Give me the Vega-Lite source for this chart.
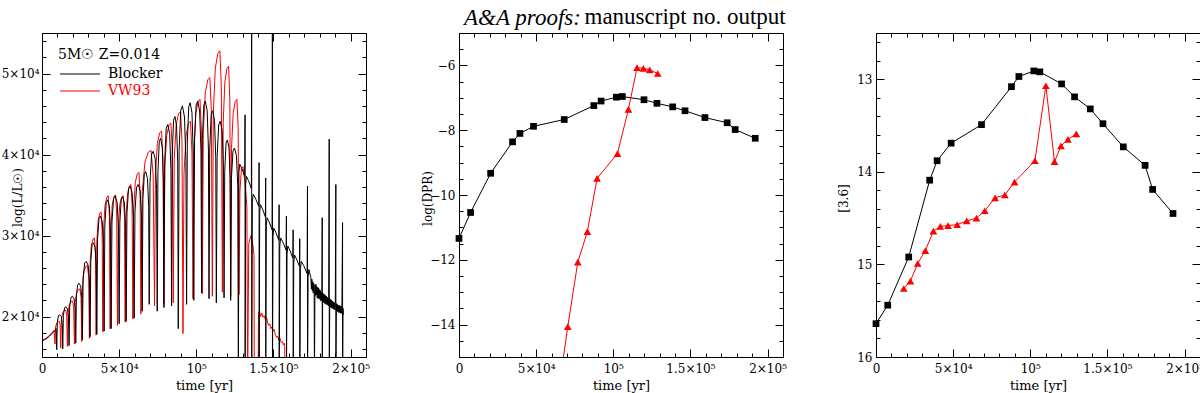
{
"$schema":"https://vega.github.io/schema/vega-lite/v6.json",
"autosize":{"type":"pad"},
"padding":{"left":0,"top":5,"right":0,"bottom":0},
"background":"white",
"config":{"view":{"stroke":"black","strokeWidth":1},
"axis":{"labelFont":"DejaVu Serif","titleFont":"DejaVu Serif","labelFontSize":12,"titleFontSize":13,"titleFontWeight":"normal","labelColor":"black","titleColor":"black","tickColor":"black","domain":false,"grid":false,"labelFlush":false,"labelOverlap":false,"tickWidth":1}},
"spacing":93,
"bounds":"flush",
"datasets":{
"lumB":[{"t":0,"v":17000},{"t":2500,"v":17200},{"t":5000,"v":17600},{"t":7000,"v":18000},{"t":8500,"v":18300},{"t":9200,"v":18500},
{"t":9550,"v":15900},{"t":9940,"v":19340},{"t":10720,"v":20110},{"t":11500,"v":20200},{"t":12470,"v":19990},{"t":13130,"v":19130},
{"t":13440,"v":16000},{"t":13850,"v":20160},{"t":14670,"v":21100},{"t":15480,"v":21200},{"t":16510,"v":20940},{"t":17200,"v":19900},
{"t":17530,"v":16400},{"t":17970,"v":21280},{"t":18840,"v":22380},{"t":19710,"v":22500},{"t":20790,"v":22200},{"t":21530,"v":20980},
{"t":21880,"v":16700},{"t":22310,"v":22620},{"t":23170,"v":23950},{"t":24030,"v":24100},{"t":25100,"v":23730},{"t":25830,"v":22250},
{"t":26170,"v":17100},{"t":26670,"v":24860},{"t":27670,"v":26610},{"t":28670,"v":26800},{"t":29920,"v":26320},{"t":30770,"v":24380},
{"t":31170,"v":17500},{"t":31610,"v":26780},{"t":32480,"v":28870},{"t":33350,"v":29100},{"t":34430,"v":28520},{"t":35170,"v":26200},
{"t":35520,"v":17800},{"t":36000,"v":29480},{"t":36940,"v":32110},{"t":37890,"v":32400},{"t":39080,"v":31670},{"t":39880,"v":28750},
{"t":40260,"v":18200},{"t":40720,"v":31160},{"t":41630,"v":34080},{"t":42540,"v":34400},{"t":43670,"v":33590},{"t":44450,"v":30350},
{"t":44810,"v":18500},{"t":45330,"v":31620},{"t":46370,"v":34570},{"t":47410,"v":34900},{"t":48700,"v":34080},{"t":49580,"v":30800},
{"t":50000,"v":19100},{"t":50460,"v":31660},{"t":51370,"v":34490},{"t":52280,"v":34800},{"t":53410,"v":34020},{"t":54190,"v":30880},
{"t":54550,"v":19400},{"t":55070,"v":32760},{"t":56110,"v":35770},{"t":57150,"v":36100},{"t":58440,"v":35270},{"t":59320,"v":31930},
{"t":59740,"v":19800},{"t":60260,"v":33000},{"t":61300,"v":35970},{"t":62340,"v":36300},{"t":63640,"v":35480},{"t":64520,"v":32180},
{"t":64940,"v":20650},{"t":65400,"v":34450},{"t":66310,"v":37560},{"t":67220,"v":37900},{"t":68350,"v":37040},{"t":69130,"v":33590},
{"t":69490,"v":21500},{"t":70010,"v":36620},{"t":71050,"v":40020},{"t":72090,"v":40400},{"t":73380,"v":39460},{"t":74260,"v":35680},
{"t":74680,"v":20650},{"t":75120,"v":37730},{"t":75990,"v":41570},{"t":76860,"v":42000},{"t":77940,"v":40930},{"t":78680,"v":36660},
{"t":79030,"v":21100},{"t":79520,"v":39180},{"t":80510,"v":43250},{"t":81500,"v":43700},{"t":82740,"v":42570},{"t":83570,"v":38050},
{"t":83970,"v":21300},{"t":84410,"v":40020},{"t":85280,"v":44230},{"t":86150,"v":44700},{"t":87230,"v":43530},{"t":87970,"v":38850},
{"t":88320,"v":18500},{"t":88860,"v":40500},{"t":89940,"v":45450},{"t":91020,"v":46000},{"t":92360,"v":44630},{"t":93280,"v":39130},
{"t":93710,"v":21500},{"t":94180,"v":41420},{"t":95110,"v":45900},{"t":96050,"v":46400},{"t":97210,"v":45160},{"t":98010,"v":40180},
{"t":98380,"v":22000},{"t":98890,"v":41680},{"t":99900,"v":46110},{"t":100920,"v":46600},{"t":102180,"v":45370},{"t":103040,"v":40450},
{"t":103450,"v":22900},{"t":103930,"v":41860},{"t":104890,"v":46130},{"t":105850,"v":46600},{"t":107050,"v":45420},{"t":107870,"v":40680},
{"t":108250,"v":22200},{"t":108730,"v":40760},{"t":109680,"v":44940},{"t":110630,"v":45400},{"t":111810,"v":44240},{"t":112620,"v":39600},
{"t":113000,"v":21700},{"t":113500,"v":39620},{"t":114500,"v":43650},{"t":115500,"v":44100},{"t":116750,"v":42980},{"t":117600,"v":38500},
{"t":118000,"v":22300},{"t":118430,"v":37900},{"t":119280,"v":41410},{"t":120140,"v":41800},{"t":121210,"v":40830},{"t":121940,"v":36930},
{"t":122280,"v":22000},{"t":122780,"v":37040},{"t":123780,"v":40420},{"t":124780,"v":40800},{"t":126030,"v":39860},{"t":126880,"v":36100},
{"t":127280,"v":12000},{"t":127630,"v":37800},{"t":128150,"v":38800},{"t":129460,"v":38300},{"t":131410,"v":37300},
{"t":131610,"v":44900},{"t":131650,"v":12000},{"t":132000,"v":36300},{"t":132490,"v":37300},{"t":133780,"v":36800},{"t":135700,"v":35800},
{"t":135900,"v":60000},{"t":135940,"v":12000},{"t":136320,"v":34100},{"t":136900,"v":35100},{"t":138330,"v":34600},{"t":140490,"v":33600},
{"t":140710,"v":39000},{"t":140750,"v":12000},{"t":141090,"v":32800},{"t":141590,"v":33800},{"t":142870,"v":33300},{"t":144800,"v":32300},
{"t":144990,"v":37100},{"t":145030,"v":12000},{"t":145380,"v":31200},{"t":145880,"v":32200},{"t":147190,"v":31700},{"t":149140,"v":30700},
{"t":149340,"v":60000},{"t":149380,"v":12000},{"t":149730,"v":29900},{"t":150230,"v":30900},{"t":151540,"v":30400},{"t":153490,"v":29400},
{"t":153690,"v":33800},{"t":153730,"v":12000},{"t":154110,"v":28700},{"t":154660,"v":29700},{"t":156080,"v":29200},{"t":158210,"v":28200},
{"t":158430,"v":32400},{"t":158470,"v":12000},{"t":158820,"v":27700},{"t":159320,"v":28700},{"t":160630,"v":28200},{"t":162580,"v":27200},
{"t":162780,"v":30700},{"t":162820,"v":12000},{"t":163170,"v":26600},{"t":163660,"v":27600},{"t":164950,"v":27100},{"t":166870,"v":26200},
{"t":167070,"v":29600},{"t":167110,"v":12000},{"t":167490,"v":25900},{"t":168090,"v":26800},{"t":169590,"v":26300},{"t":171840,"v":25300},
{"t":172070,"v":36100},{"t":172110,"v":12000},{"t":172460,"v":24900},{"t":172990,"v":25800},{"t":174000,"v":25000},
{"t":174300,"v":24800},{"t":174600,"v":23400},{"t":174900,"v":24600},{"t":175200,"v":23200},{"t":175500,"v":24300},{"t":175800,"v":22900},{"t":176100,"v":24100},{"t":176400,"v":23000},{"t":176600,"v":12000},{"t":176900,"v":23900},{"t":177200,"v":22600},{"t":177500,"v":24000},{"t":177800,"v":22700},{"t":178100,"v":23700},{"t":178400,"v":22300},{"t":178700,"v":23600},{"t":179000,"v":22200},{"t":179300,"v":23500},{"t":179600,"v":22300},{"t":179900,"v":23300},{"t":180200,"v":22100},{"t":180500,"v":23200},{"t":180800,"v":21900},{"t":181100,"v":23000},{"t":181400,"v":22000},{"t":181620,"v":32200},{"t":181660,"v":12000},{"t":181900,"v":22900},{"t":182200,"v":21800},{"t":182500,"v":22800},{"t":182800,"v":21700},{"t":183100,"v":22700},{"t":183400,"v":21600},{"t":183700,"v":22600},{"t":184000,"v":21500},{"t":184300,"v":22500},{"t":184600,"v":21500},{"t":184900,"v":22400},{"t":185200,"v":21400},{"t":185500,"v":22300},{"t":185800,"v":21300},{"t":186160,"v":41900},{"t":186200,"v":12000},{"t":186500,"v":22200},{"t":186800,"v":21200},{"t":187100,"v":22100},{"t":187400,"v":21100},{"t":187700,"v":22000},{"t":188000,"v":21000},{"t":188300,"v":21900},{"t":188600,"v":21000},{"t":188900,"v":21800},{"t":189200,"v":20900},{"t":189500,"v":21700},{"t":189800,"v":20800},{"t":190100,"v":21600},{"t":190450,"v":36300},{"t":190490,"v":12000},{"t":190800,"v":21600},{"t":191100,"v":20700},{"t":191400,"v":21500},{"t":191700,"v":20600},{"t":192000,"v":21400},{"t":192300,"v":20500},{"t":192600,"v":21400},{"t":192900,"v":20500},{"t":193200,"v":21300},{"t":193500,"v":20400},{"t":193800,"v":21300},{"t":194100,"v":20400},{"t":194400,"v":21200},{"t":194800,"v":31600},{"t":194840,"v":12000},{"t":195100,"v":21000},{"t":195300,"v":20200}],
"lumR":[{"t":0,"v":17000},{"t":2500,"v":17300},{"t":5000,"v":17700},{"t":6500,"v":18000},{"t":7800,"v":18300},
{"t":8440,"v":16600},{"t":8810,"v":18700},{"t":9550,"v":19200},{"t":10480,"v":19370},{"t":11220,"v":19400},{"t":11770,"v":18980},
{"t":12140,"v":16100},{"t":12570,"v":19630},{"t":13430,"v":20470},{"t":14510,"v":20750},{"t":15370,"v":20800},{"t":16020,"v":20100},
{"t":16450,"v":16300},{"t":16900,"v":20500},{"t":17810,"v":21510},{"t":18950,"v":21840},{"t":19860,"v":21900},{"t":20540,"v":21060},
{"t":20990,"v":16600},{"t":21470,"v":21700},{"t":22420,"v":22920},{"t":23620,"v":23330},{"t":24580,"v":23400},{"t":25290,"v":22380},
{"t":25770,"v":16900},{"t":26270,"v":23950},{"t":27260,"v":25640},{"t":28490,"v":26210},{"t":29480,"v":26300},{"t":30230,"v":24890},
{"t":30720,"v":17300},{"t":31160,"v":26600},{"t":32030,"v":28830},{"t":33110,"v":29580},{"t":33980,"v":29700},{"t":34640,"v":27840},
{"t":35070,"v":17700},{"t":35500,"v":29100},{"t":36370,"v":31840},{"t":37450,"v":32750},{"t":38320,"v":32900},{"t":38970,"v":30620},
{"t":39400,"v":18100},{"t":39880,"v":30700},{"t":40830,"v":33720},{"t":42020,"v":34730},{"t":42970,"v":34900},{"t":43680,"v":32380},
{"t":44160,"v":18500},{"t":44630,"v":30880},{"t":45580,"v":33850},{"t":46770,"v":34840},{"t":47720,"v":35000},{"t":48430,"v":32530},
{"t":48900,"v":18900},{"t":49400,"v":30900},{"t":50400,"v":33780},{"t":51650,"v":34740},{"t":52650,"v":34900},{"t":53400,"v":32500},
{"t":53900,"v":19300},{"t":54400,"v":32050},{"t":55400,"v":35110},{"t":56650,"v":36130},{"t":57650,"v":36300},{"t":58400,"v":33750},
{"t":58900,"v":19700},{"t":59420,"v":33280},{"t":60460,"v":36530},{"t":61760,"v":37620},{"t":62800,"v":37800},{"t":63580,"v":35090},
{"t":64100,"v":20300},{"t":64980,"v":35450},{"t":66750,"v":39090},{"t":68960,"v":40300},{"t":70720,"v":40500},{"t":72050,"v":37470},
{"t":72930,"v":21300},{"t":73540,"v":37500},{"t":74750,"v":41390},{"t":76270,"v":42680},{"t":77480,"v":42900},{"t":78390,"v":39660},
{"t":79000,"v":21500},{"t":79610,"v":38300},{"t":80820,"v":42330},{"t":82340,"v":43680},{"t":83550,"v":43900},{"t":84460,"v":40540},
{"t":85070,"v":21700},{"t":85700,"v":39400},{"t":86960,"v":43650},{"t":88540,"v":45060},{"t":89800,"v":45300},{"t":90740,"v":41760},
{"t":91370,"v":17900},{"t":92020,"v":37550},{"t":93320,"v":42270},{"t":94940,"v":43840},{"t":96240,"v":44100},{"t":97210,"v":40170},
{"t":97860,"v":22200},{"t":98460,"v":40650},{"t":99670,"v":45080},{"t":101180,"v":46550},{"t":102390,"v":46800},{"t":103300,"v":43110},
{"t":103900,"v":22800},{"t":104550,"v":42830},{"t":105850,"v":47630},{"t":107480,"v":49230},{"t":108780,"v":49500},{"t":109750,"v":45500},
{"t":110400,"v":22500},{"t":111050,"v":45230},{"t":112350,"v":50680},{"t":113980,"v":52500},{"t":115280,"v":52800},{"t":116250,"v":48260},
{"t":116900,"v":23000},{"t":117440,"v":43930},{"t":118520,"v":48950},{"t":119870,"v":50620},{"t":120950,"v":50900},{"t":121760,"v":46720},
{"t":122300,"v":22500},{"t":122840,"v":40730},{"t":123920,"v":45100},{"t":125270,"v":46560},{"t":126350,"v":46800},{"t":127160,"v":43160},
{"t":127700,"v":22700},{"t":128300,"v":35500},{"t":129300,"v":38300},{"t":130300,"v":38500},{"t":131600,"v":36500},{"t":132800,"v":33500},{"t":133300,"v":12000},{"t":134000,"v":29000},{"t":135500,"v":30000},{"t":136800,"v":28700},{"t":137400,"v":27500},{"t":137600,"v":12000},{"t":140100,"v":12000},{"t":140300,"v":20400},
{"t":141000,"v":20700},{"t":141700,"v":20000},{"t":142500,"v":20400},{"t":143200,"v":19900},{"t":144000,"v":20100},{"t":144800,"v":19600},{"t":145500,"v":19900},{"t":146300,"v":19200},{"t":147000,"v":18900},{"t":147600,"v":19100},{"t":148300,"v":18500},{"t":149000,"v":18700},{"t":149800,"v":18200},{"t":150500,"v":18400},{"t":151200,"v":17800},{"t":152000,"v":17400},{"t":152700,"v":17600},{"t":153500,"v":17100},{"t":154300,"v":17300},{"t":155000,"v":16800},{"t":155800,"v":16900},{"t":156500,"v":16500},{"t":157000,"v":16700},{"t":157300,"v":16300},{"t":157500,"v":12000}],
"dprB":[{"t":0,"v":-11.34},{"t":7500,"v":-10.54},{"t":20500,"v":-9.33},{"t":34700,"v":-8.36},{"t":39500,"v":-8.10},{"t":48300,"v":-7.88},{"t":68200,"v":-7.67},{"t":87400,"v":-7.24},{"t":92100,"v":-7.10},{"t":102000,"v":-6.98},{"t":105900,"v":-6.96},{"t":119900,"v":-7.06},{"t":128300,"v":-7.17},{"t":138500,"v":-7.28},{"t":146500,"v":-7.40},{"t":159400,"v":-7.61},{"t":173800,"v":-7.77},{"t":179000,"v":-7.98},{"t":192000,"v":-8.25}],
"dprR":[{"t":66500,"v":-15.4},{"t":70500,"v":-14.06},{"t":77000,"v":-12.07},{"t":83200,"v":-11.13},{"t":89500,"v":-9.49},{"t":102700,"v":-8.72},{"t":109800,"v":-7.36},{"t":115400,"v":-6.07},{"t":119500,"v":-6.09},{"t":123600,"v":-6.14},{"t":128800,"v":-6.25}],
"magB":[{"t":0,"v":15.64},{"t":7600,"v":15.44},{"t":21200,"v":14.92},{"t":34800,"v":14.09},{"t":39600,"v":13.88},{"t":48700,"v":13.69},{"t":68400,"v":13.49},{"t":87800,"v":13.08},{"t":92600,"v":12.97},{"t":102300,"v":12.91},{"t":106200,"v":12.92},{"t":120300,"v":13.05},{"t":128700,"v":13.19},{"t":138900,"v":13.32},{"t":147100,"v":13.48},{"t":160300,"v":13.73},{"t":174400,"v":13.93},{"t":179300,"v":14.19},{"t":192500,"v":14.45}],
"magR":[{"t":18000,"v":15.26},{"t":22300,"v":15.18},{"t":27000,"v":14.99},{"t":32000,"v":14.85},{"t":37200,"v":14.64},{"t":41700,"v":14.59},{"t":46700,"v":14.58},{"t":52600,"v":14.57},{"t":58800,"v":14.53},{"t":65100,"v":14.50},{"t":70500,"v":14.42},{"t":77200,"v":14.28},{"t":83500,"v":14.25},{"t":89800,"v":14.11},{"t":103000,"v":13.88},{"t":110100,"v":13.07},{"t":115700,"v":13.89},{"t":119900,"v":13.72},{"t":124400,"v":13.65},{"t":129800,"v":13.59}]
},
"hconcat":[
{"width":324,"height":324,
"title":{"text":"A&A proofs:","font":"Liberation Serif","fontSize":23,"fontStyle":"italic","fontWeight":"normal","color":"black","anchor":"start","frame":"group","dx":422,"offset":-15,"baseline":"alphabetic"},
"layer":[
{"data":{"name":"lumR"},"mark":{"type":"line","clip":true,"strokeWidth":1},
"encoding":{
"x":{"field":"t","type":"quantitative","scale":{"domain":[0,210000],"nice":false,"zero":false},
"axis":{"orient":"bottom","values":[0,10000,20000,30000,40000,50000,60000,70000,80000,90000,100000,110000,120000,130000,140000,150000,160000,170000,180000,190000,200000,210000],"labelExpr":"datum.value==0?'0':datum.value==50000?'5×10⁴':datum.value==100000?'10⁵':datum.value==150000?'1.5×10⁵':datum.value==200000?'2×10⁵':''","tickSize":{"condition":{"test":"datum.value % 50000 === 0","value":-8},"value":-4},"labelPadding":14,"title":"time [yr]","titleX":162,"titleY":28,"titleBaseline":"middle"}},
"y":{"field":"v","type":"quantitative","scale":{"domain":[15000,55000],"nice":false,"zero":false},
"axis":{"orient":"left","values":[16000,18000,20000,22000,24000,26000,28000,30000,32000,34000,36000,38000,40000,42000,44000,46000,48000,50000,52000,54000],"labelExpr":"datum.value % 10000 === 0 ? (datum.value/10000)+'×10⁴' : ''","tickSize":{"condition":{"test":"datum.value % 10000 === 0","value":-8},"value":-4},"labelPadding":11,"title":"log(L/L☉)","titleFontSize":12,"titleX":-25,"titleY":164,"titleBaseline":"middle"}},
"color":{"datum":"VW93","scale":{"domain":["Blocker","VW93"],"range":["#000000","#ff0000"]},
"legend":{"orient":"none","legendX":16,"legendY":15,"padding":0,"title":"5M☉  Z=0.014","titleFont":"DejaVu Serif","titleFontSize":14,"titleFontWeight":"normal","titleColor":"black","titlePadding":5,"labelFont":"DejaVu Serif","labelFontSize":14,"labelColor":{"expr":"datum.label=='VW93'?'#ff0000':'#000000'"},"symbolType":"M-1,0H7","symbolSize":100,"symbolStrokeWidth":1,"labelOffset":36,"rowPadding":3}}}},
{"data":{"name":"lumB"},"mark":{"type":"line","clip":true,"strokeWidth":1},
"encoding":{
"x":{"field":"t","type":"quantitative","axis":{"orient":"top","values":[0,10000,20000,30000,40000,50000,60000,70000,80000,90000,100000,110000,120000,130000,140000,150000,160000,170000,180000,190000,200000,210000],"labels":false,"title":null,"tickSize":{"condition":{"test":"datum.value % 50000 === 0","value":-8},"value":-4}}},
"y":{"field":"v","type":"quantitative","axis":{"orient":"right","values":[16000,18000,20000,22000,24000,26000,28000,30000,32000,34000,36000,38000,40000,42000,44000,46000,48000,50000,52000,54000],"labels":false,"title":null,"tickSize":{"condition":{"test":"datum.value % 10000 === 0","value":-8},"value":-4}}},
"color":{"datum":"Blocker"}}}
],
"resolve":{"axis":{"x":"independent","y":"independent"}}
},
{"width":324,"height":324,
"title":{"text":"manuscript no. output","font":"Liberation Serif","fontSize":23,"fontWeight":"normal","color":"black","anchor":"start","frame":"group","dx":125.5,"offset":-20,"baseline":"alphabetic"},
"layer":[
{"data":{"name":"dprB"},"mark":{"type":"line","clip":true,"strokeWidth":1,"color":"black"},
"encoding":{
"x":{"field":"t","type":"quantitative","scale":{"domain":[0,210000],"nice":false,"zero":false},
"axis":{"orient":"bottom","values":[0,10000,20000,30000,40000,50000,60000,70000,80000,90000,100000,110000,120000,130000,140000,150000,160000,170000,180000,190000,200000,210000],"labelExpr":"datum.value==0?'0':datum.value==50000?'5×10⁴':datum.value==100000?'10⁵':datum.value==150000?'1.5×10⁵':datum.value==200000?'2×10⁵':''","tickSize":{"condition":{"test":"datum.value % 50000 === 0","value":-8},"value":-4},"labelPadding":14,"title":"time [yr]","titleX":162,"titleY":28,"titleBaseline":"middle"}},
"y":{"field":"v","type":"quantitative","scale":{"domain":[-15,-5],"nice":false,"zero":false},
"axis":{"orient":"left","values":[-15,-14.5,-14,-13.5,-13,-12.5,-12,-11.5,-11,-10.5,-10,-9.5,-9,-8.5,-8,-7.5,-7,-6.5,-6,-5.5,-5],"labelExpr":"datum.value % 2 === 0 ? format(datum.value,'d') : ''","tickSize":{"condition":{"test":"datum.value % 2 === 0","value":-8},"value":-4},"labelPadding":12,"title":"log(DPR)","titleFontSize":12,"titleX":-32,"titleY":165,"titleBaseline":"middle"}}}},
{"data":{"name":"dprB"},"mark":{"type":"square","size":45,"filled":true,"color":"black","opacity":1},
"encoding":{
"x":{"field":"t","type":"quantitative","axis":{"orient":"top","values":[0,10000,20000,30000,40000,50000,60000,70000,80000,90000,100000,110000,120000,130000,140000,150000,160000,170000,180000,190000,200000,210000],"labels":false,"title":null,"tickSize":{"condition":{"test":"datum.value % 50000 === 0","value":-8},"value":-4}}},
"y":{"field":"v","type":"quantitative","axis":{"orient":"right","values":[-15,-14.5,-14,-13.5,-13,-12.5,-12,-11.5,-11,-10.5,-10,-9.5,-9,-8.5,-8,-7.5,-7,-6.5,-6,-5.5,-5],"labels":false,"title":null,"tickSize":{"condition":{"test":"datum.value % 2 === 0","value":-8},"value":-4}}}}},
{"data":{"name":"dprR"},"mark":{"type":"line","clip":true,"strokeWidth":1,"color":"#ff0000"},
"encoding":{"x":{"field":"t","type":"quantitative","axis":null},"y":{"field":"v","type":"quantitative","axis":null}}},
{"data":{"name":"dprR"},"transform":[{"filter":"datum.v >= -15"}],"mark":{"type":"point","shape":"triangle-up","size":60,"filled":true,"color":"#ff0000","opacity":1},
"encoding":{"x":{"field":"t","type":"quantitative","axis":null},"y":{"field":"v","type":"quantitative","axis":null}}}
],
"resolve":{"axis":{"x":"independent","y":"independent"}}
},
{"width":324,"height":324,
"layer":[
{"data":{"name":"magB"},"mark":{"type":"line","clip":true,"strokeWidth":1,"color":"black"},
"encoding":{
"x":{"field":"t","type":"quantitative","scale":{"domain":[0,210000],"nice":false,"zero":false},
"axis":{"orient":"bottom","values":[0,10000,20000,30000,40000,50000,60000,70000,80000,90000,100000,110000,120000,130000,140000,150000,160000,170000,180000,190000,200000,210000],"labelExpr":"datum.value==0?'0':datum.value==50000?'5×10⁴':datum.value==100000?'10⁵':datum.value==150000?'1.5×10⁵':datum.value==200000?'2×10⁵':''","tickSize":{"condition":{"test":"datum.value % 50000 === 0","value":-8},"value":-4},"labelPadding":14,"title":"time [yr]","titleX":162,"titleY":28,"titleBaseline":"middle"}},
"y":{"field":"v","type":"quantitative","scale":{"domain":[12.5,16],"reverse":true,"nice":false,"zero":false},
"axis":{"orient":"left","values":[12.6,12.8,13,13.2,13.4,13.6,13.8,14,14.2,14.4,14.6,14.8,15,15.2,15.4,15.6,15.8,16],"labelExpr":"datum.value % 1 === 0 ? format(datum.value,'d') : ''","tickSize":{"condition":{"test":"datum.value % 1 === 0","value":-8},"value":-4},"labelPadding":12,"title":"[3.6]","titleFontSize":12,"titleX":-33,"titleY":165,"titleBaseline":"middle"}}}},
{"data":{"name":"magB"},"mark":{"type":"square","size":45,"filled":true,"color":"black","opacity":1},
"encoding":{
"x":{"field":"t","type":"quantitative","axis":{"orient":"top","values":[0,10000,20000,30000,40000,50000,60000,70000,80000,90000,100000,110000,120000,130000,140000,150000,160000,170000,180000,190000,200000,210000],"labels":false,"title":null,"tickSize":{"condition":{"test":"datum.value % 50000 === 0","value":-8},"value":-4}}},
"y":{"field":"v","type":"quantitative","axis":{"orient":"right","values":[12.6,12.8,13,13.2,13.4,13.6,13.8,14,14.2,14.4,14.6,14.8,15,15.2,15.4,15.6,15.8,16],"labels":false,"title":null,"tickSize":{"condition":{"test":"datum.value % 1 === 0","value":-8},"value":-4}}}}},
{"data":{"name":"magR"},"mark":{"type":"line","clip":true,"strokeWidth":1,"color":"#ff0000"},
"encoding":{"x":{"field":"t","type":"quantitative","axis":null},"y":{"field":"v","type":"quantitative","axis":null}}},
{"data":{"name":"magR"},"mark":{"type":"point","shape":"triangle-up","size":60,"filled":true,"color":"#ff0000","opacity":1},
"encoding":{"x":{"field":"t","type":"quantitative","axis":null},"y":{"field":"v","type":"quantitative","axis":null}}}
],
"resolve":{"axis":{"x":"independent","y":"independent"}}
}
]
}
